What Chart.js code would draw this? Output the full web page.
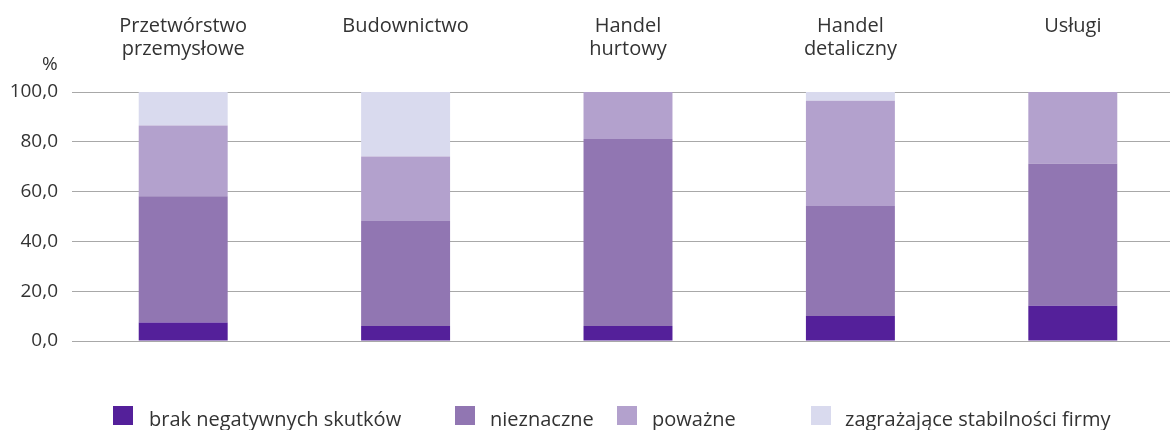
<!DOCTYPE html>
<html>
<head>
<meta charset="utf-8">
<script src="https://cdn.jsdelivr.net/npm/chart.js@4.4.1/dist/chart.umd.min.js"></script>
<style>
  html, body { margin:0; padding:0; background:#fff; width:1170px; height:430px; overflow:hidden; }
  #wrap { position:absolute; left:0; top:0; width:1184px; height:430px; }
  #pct { position:absolute; left:42px; top:50px; font:19px "Open Sans", sans-serif; color:#333; }
  .lg { position:absolute; top:406px; font:20px "Open Sans", sans-serif; color:#333; white-space:nowrap; line-height:26px; }
  .lg i { position:absolute; top:0px; width:20px; height:19px; }
</style>
</head>
<body>
<div id="wrap"><canvas id="c"></canvas></div>
<div id="pct">%</div>
<div id="legend"></div>
<script>
const categories = [
  ['Przetwórstwo', 'przemysłowe'],
  ['Budownictwo', ''],
  ['Handel', 'hurtowy'],
  ['Handel', 'detaliczny'],
  ['Usługi', '']
];
const seriesNames = ['brak negatywnych skutków', 'nieznaczne', 'poważne', 'zagrażające stabilności firmy'];
const brak = [7.4, 6.0, 6.0, 10.0, 14.2];
const nieznaczne = [50.7, 42.2, 75.1, 44.2, 57.0];
const powazne = [28.4, 25.9, 18.9, 42.3, 28.8];
const zagrazajace = [13.5, 25.9, 0, 3.5, 0];
const yTicks = [0, 20, 40, 60, 80, 100];

const colors = ['#54209a', '#9176b2', '#b3a1cd', '#d9daee'];
const seriesData = [brak, nieznaczne, powazne, zagrazajace];
const FONT = '"Open Sans", sans-serif';

const datasets = seriesNames.map((n, i) => ({
  label: n,
  data: seriesData[i],
  backgroundColor: colors[i],
  borderWidth: 0,
  barPercentage: 0.4,
  categoryPercentage: 1.0
}));

new Chart(document.getElementById('c'), {
  type: 'bar',
  data: { labels: categories, datasets },
  options: {
    responsive: true,
    maintainAspectRatio: false,
    animation: false,
    layout: { padding: { top: 0, bottom: 89, left: 0, right: 0 } },
    plugins: { legend: { display: false }, tooltip: { enabled: false } },
    scales: {
      x: {
        position: 'top',
        stacked: true,
        grid: { display: false, drawTicks: false },
        border: { display: false },
        ticks: {
          color: '#333',
          font: { family: FONT, size: 20, lineHeight: 1.17 },
          padding: 31,
          crossAlign: 'far',
          maxRotation: 0,
          autoSkip: false
        },
        afterFit: (a) => { a.height = 92; }
      },
      y: {
        stacked: true,
        min: 0,
        max: 100,
        afterBuildTicks: (a) => { a.ticks = yTicks.map(v => ({ value: v })); },
        grid: { color: '#a8a8a8', lineWidth: 1, drawTicks: false },
        border: { display: false },
        ticks: {
          color: '#333',
          font: { family: FONT, size: 19 },
          padding: 14,
          callback: (v) => Number(v).toFixed(1).replace('.', ',')
        },
        afterFit: (a) => { a.width = 72; }
      }
    }
  }
});

// HTML legend
const lgPos = [[113, 149], [455, 490], [617, 652], [811, 845]];
const legend = document.getElementById('legend');
seriesNames.forEach((n, i) => {
  const box = document.createElement('div');
  box.className = 'lg';
  box.style.left = lgPos[i][0] + 'px';
  box.innerHTML = '<i style="background:' + colors[i] + '"></i>';
  legend.appendChild(box);
  const t = document.createElement('div');
  t.className = 'lg';
  t.style.left = lgPos[i][1] + 'px';
  t.textContent = n;
  legend.appendChild(t);
});
</script>
</body>
</html>
